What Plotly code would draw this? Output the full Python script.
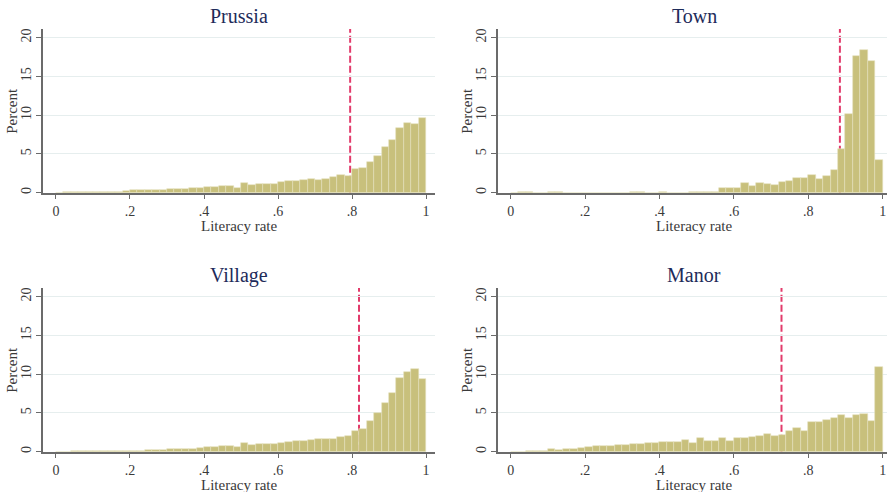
import plotly.graph_objects as go

# ---------------- data ----------------
bin_start = [0.00, 0.02, 0.04, 0.06, 0.08, 0.10, 0.12, 0.14, 0.16, 0.18,
             0.20, 0.22, 0.24, 0.26, 0.28, 0.30, 0.32, 0.34, 0.36, 0.38,
             0.40, 0.42, 0.44, 0.46, 0.48, 0.50, 0.52, 0.54, 0.56, 0.58,
             0.60, 0.62, 0.64, 0.66, 0.68, 0.70, 0.72, 0.74, 0.76, 0.78,
             0.80, 0.82, 0.84, 0.86, 0.88, 0.90, 0.92, 0.94, 0.96, 0.98]
bin_width = 0.02

prussia = [0.02, 0.03, 0.04, 0.05, 0.06, 0.08, 0.10, 0.12, 0.14, 0.17,
           0.30, 0.30, 0.35, 0.40, 0.40, 0.45, 0.50, 0.50, 0.55, 0.60,
           0.80, 0.75, 0.82, 0.90, 0.65, 1.20, 1.00, 1.10, 1.10, 1.15,
           1.38, 1.45, 1.50, 1.70, 1.76, 1.70, 1.80, 2.05, 2.30, 2.20,
           3.05, 3.15, 3.90, 4.75, 5.90, 6.75, 8.40, 9.05, 8.85, 9.70]
town = [0, 0.05, 0.05, 0, 0, 0.04, 0.08, 0, 0, 0,
        0, 0, 0, 0, 0, 0, 0.05, 0.07, 0, 0,
        0.05, 0, 0, 0, 0.10, 0.15, 0.15, 0.10, 0.65, 0.55,
        0.65, 1.25, 0.90, 1.30, 1.10, 1.00, 1.40, 1.50, 1.90, 1.90,
        2.30, 1.75, 2.20, 2.90, 5.70, 10.20, 17.60, 18.40, 17.00, 4.20]
village = [0.02, 0.02, 0.03, 0.03, 0.04, 0.05, 0.05, 0.06, 0.08, 0.10,
           0.15, 0.15, 0.20, 0.25, 0.25, 0.30, 0.35, 0.40, 0.40, 0.45,
           0.60, 0.60, 0.70, 0.75, 0.65, 1.10, 0.85, 0.95, 1.00, 1.05,
           1.10, 1.30, 1.35, 1.40, 1.55, 1.60, 1.60, 1.70, 1.85, 2.05,
           2.70, 2.90, 3.90, 5.00, 6.30, 7.60, 9.50, 10.30, 10.70, 9.40]
manor = [0.02, 0.02, 0.03, 0.03, 0.05, 0.35, 0.20, 0.40, 0.40, 0.45,
         0.65, 0.70, 0.70, 0.80, 0.85, 0.90, 0.95, 0.95, 1.15, 1.15,
         1.30, 1.20, 1.25, 1.50, 1.10, 1.75, 1.40, 1.40, 1.75, 1.35,
         1.75, 1.80, 1.85, 2.00, 2.25, 2.05, 2.20, 2.70, 3.00, 2.70,
         3.85, 3.85, 4.10, 4.30, 4.80, 4.30, 4.80, 4.90, 3.90, 10.90]

panel_titles = ["Prussia", "Town", "Village", "Manor"]
panel_values = [prussia, town, village, manor]
mean_lines = [0.795, 0.885, 0.819, 0.728]

x_tickvals = [0, 0.2, 0.4, 0.6, 0.8, 1]
x_ticktext = ["0", ".2", ".4", ".6", ".8", "1"]
y_tickvals = [0, 5, 10, 15, 20]
y_ticktext = ["0", "5", "10", "15", "20"]
x_title = "Literacy rate"
y_title = "Percent"

# ---------------- layout geometry ----------------
W, H = 887, 492
# pixel boxes: (left, right, top, bottom)
boxes = [(43, 435, 29, 192.7), (498, 887, 29, 192.7),
         (43, 435, 288, 451.7), (498, 887, 288, 451.7)]
xranges = [[-0.0351, 1.0243], [-0.0341, 1.0116], [-0.0351, 1.0243], [-0.0341, 1.0116]]
title_cx = [239, 694, 239, 694]
yrange = [0, 21.12]

BAR = "#c8c07c"
BAR_LINE = "#e4e1bd"
AXIS = "#6b6b6b"
GRID = "#e6eeee"
FONT = "Liberation Serif"
TITLE_COL = "#1e2b5a"
TEXT_COL = "#3a3a3a"
DASH_COL = "#e23b6b"


def px_x(sx):
    return sx / W


def px_y(sy):
    return (H - sy) / H


fig = go.Figure()
layout = dict(width=W, height=H, margin=dict(l=0, r=0, t=0, b=0),
              paper_bgcolor="white", plot_bgcolor="white",
              showlegend=False, bargap=0, font=dict(family=FONT, color=TEXT_COL))
annotations = []
shapes = []

for i, (title, vals) in enumerate(zip(panel_titles, panel_values)):
    n = i + 1
    xa = "x" if n == 1 else f"x{n}"
    ya = "y" if n == 1 else f"y{n}"
    l, r, t, b = boxes[i]
    fig.add_trace(go.Bar(x=bin_start, y=vals, width=bin_width, offset=0,
                         marker=dict(color=BAR, line=dict(color=BAR_LINE, width=0.6)),
                         xaxis=xa, yaxis=ya, hoverinfo="x+y"))
    xkey = "xaxis" if n == 1 else f"xaxis{n}"
    ykey = "yaxis" if n == 1 else f"yaxis{n}"
    layout[xkey] = dict(domain=[px_x(l), min(px_x(r), 1.0)], range=xranges[i], anchor=ya,
                        tickmode="array", tickvals=x_tickvals, ticktext=x_ticktext,
                        ticks="outside", ticklen=5, tickwidth=1.2, tickcolor=AXIS,
                        showline=True, linecolor=AXIS, linewidth=1.5,
                        showgrid=False, zeroline=False,
                        tickfont=dict(family=FONT, size=14, color=TEXT_COL))
    layout[ykey] = dict(domain=[px_y(b), px_y(t)], range=yrange, anchor=xa,
                        tickmode="array", tickvals=y_tickvals, ticktext=y_ticktext,
                        tickangle=-90,
                        ticks="outside", ticklen=5, tickwidth=1.2, tickcolor=AXIS,
                        showline=True, linecolor=AXIS, linewidth=1.5,
                        showgrid=True, gridcolor=GRID, gridwidth=1, zeroline=False,
                        tickfont=dict(family=FONT, size=14, color=TEXT_COL))
    cx = title_cx[i]
    annotations.append(dict(text=title, x=px_x(cx), y=px_y(t - 13),
                            xref="paper", yref="paper", showarrow=False,
                            xanchor="center", yanchor="middle",
                            font=dict(family=FONT, size=20, color=TITLE_COL)))
    annotations.append(dict(text=x_title, x=px_x(cx), y=px_y(b + 33),
                            xref="paper", yref="paper", showarrow=False,
                            xanchor="center", yanchor="middle",
                            font=dict(family=FONT, size=15, color=TEXT_COL)))
    annotations.append(dict(text=y_title, x=px_x(l - 31), y=px_y((t + b) / 2),
                            xref="paper", yref="paper", showarrow=False, textangle=-90,
                            xanchor="center", yanchor="middle",
                            font=dict(family=FONT, size=15, color=TEXT_COL)))
    shapes.append(dict(type="line", xref=xa, yref=ya,
                       x0=mean_lines[i], x1=mean_lines[i], y0=0, y1=yrange[1],
                       line=dict(color=DASH_COL, width=2, dash="7px,3px"),
                       layer="below"))

layout["annotations"] = annotations
layout["shapes"] = shapes
fig.update_layout(**layout)
fig.write_html("out.html",
               config={"displayModeBar": False},
               post_script="document.body.style.margin='0';document.body.style.overflow='hidden';")
